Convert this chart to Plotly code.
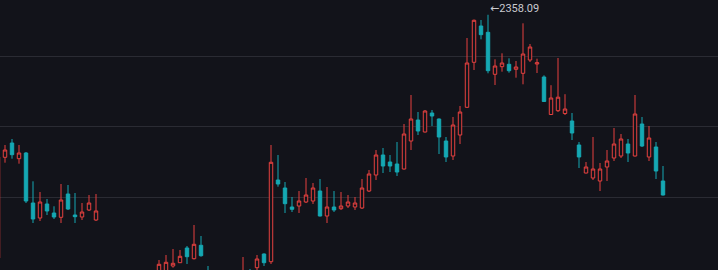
import plotly.graph_objects as go

# trading-day index (categories)
days = list(range(96))

opens = [2015.48, 2157.31, 2177.45, 2155.34, 2163.37, 2092.94, 2071.82, 2091.54, 2078.86, 2072.80,
         2105.62, 2076.04, 2073.23, 2083.08, 2069.00, 1985, 1968, 1956, 1960, 1950,
         1958, 1970, 1978, 1985, 1995, 2004.21, 2008.86, 2029.56, 2014.49, 2033.36,
         1996, 1975, 1962, 1968, 1960, 1972, 1994, 2001.81, 2021.11, 2010.27,
         2125.34, 2114.07, 2087.31, 2088.72, 2094.35, 2095.76, 2109.85, 2074.63, 2087.31, 2084.92,
         2088.72, 2087.31, 2085.90, 2109.85, 2132.38, 2160.55, 2150.69, 2147.88, 2140.83, 2180.27,
         2209.85, 2192.95, 2219.71, 2211.26, 2180.27, 2159.14, 2188.72, 2227.74, 2291.12, 2342.25,
         2333.38, 2274.22, 2284.92, 2288.30, 2281.26, 2275.63, 2294.36, 2288.73, 2270.42, 2217.60,
         2222.95, 2219.01, 2208.44, 2174.64, 2135.20, 2128.16, 2123.93, 2143.65, 2156.33, 2159.14,
         2176.05, 2159.14, 2204.22, 2157.74, 2171.82, 2123.93]
highs = [2160.55, 2174.64, 2183.09, 2174.64, 2164.78, 2123.51, 2108.44, 2098.58, 2088.30, 2119.71,
         2118.30, 2107.03, 2092.94, 2104.21, 2105.62, 1995, 1978, 1966, 1972, 1962,
         1975, 1985, 1990, 2012.66, 2019.70, 2028.15, 2026.74, 2032.38, 2061.96, 2046.46,
         2004.21, 1985, 1975, 1980, 1978, 2016.89, 2000.0, 2019.70, 2022.0, 2174.64,
         2160.55, 2122.52, 2101.40, 2109.85, 2128.16, 2121.11, 2126.75, 2115.48, 2109.85, 2108.44,
         2104.21, 2101.40, 2126.75, 2139.42, 2167.59, 2170.41, 2160.55, 2178.86, 2204.22, 2245.06,
         2221.12, 2223.93, 2223.93, 2212.0, 2185.91, 2214.08, 2229.57, 2325.35, 2351.40, 2350.70,
         2358.09, 2295.35, 2303.80, 2296.75, 2292.95, 2346.05, 2316.90, 2296.19, 2272.81, 2258.87,
         2297.18, 2246.19, 2219.71, 2178.86, 2150.69, 2185.91, 2149.28, 2167.59, 2198.58, 2190.13,
         2183.09, 2245.06, 2214.08, 2201.40, 2178.86, 2145.06]
lows = [2012.66, 2149.71, 2155.34, 2148.30, 2092.94, 2064.77, 2067.59, 2076.04, 2070.41, 2064.77,
        2083.08, 2064.77, 2069.00, 2081.68, 2067.59, 1962, 1950, 1938, 1948, 1935,
        1952, 1962, 1968, 1980, 1990, 2001.81, 2008.43, 2007.03, 2013.36, 2017.31,
        1970, 1958, 1950, 1955, 1952, 1966, 1978, 1996, 2004.21, 2007.03,
        2115.90, 2078.86, 2080.27, 2078.86, 2092.94, 2091.54, 2074.0, 2064.77, 2080.27, 2083.08,
        2085.90, 2083.08, 2084.49, 2108.44, 2125.34, 2135.20, 2136.61, 2130.97, 2140.0, 2167.59,
        2188.72, 2192.3, 2201.40, 2161.96, 2150.69, 2153.51, 2176.05, 2227.0, 2280.27, 2323.52,
        2275.63, 2259.15, 2277.88, 2276.47, 2269.43, 2260.13, 2291.54, 2276.05, 2235.2, 2217.0,
        2221.12, 2216.89, 2181.68, 2142.24, 2134.5, 2125.34, 2109.85, 2123.93, 2152.10, 2156.33,
        2150.69, 2158.4, 2171.82, 2152.10, 2126.75, 2103.5]
closes = [2157.74, 2167.59, 2160.97, 2163.37, 2095.76, 2070.41, 2094.35, 2081.68, 2073.23, 2097.17,
          2084.49, 2073.65, 2080.27, 2092.94, 2081.68, 1970, 1955, 1960, 1952, 1958,
          1970, 1978, 1982, 2006.60, 2009.42, 2008.01, 2017.87, 2017.31, 2034.77, 2018.72,
          1975, 1962, 1968, 1960, 1972, 1994, 1982, 2014.07, 2008.86, 2150.27,
          2119.71, 2091.96, 2084.07, 2095.76, 2104.21, 2114.07, 2074.63, 2087.31, 2083.08, 2088.72,
          2094.35, 2092.94, 2114.07, 2133.79, 2160.55, 2145.06, 2145.06, 2136.61, 2190.13, 2211.26,
          2194.36, 2222.53, 2215.48, 2185.91, 2157.74, 2202.81, 2221.12, 2290.13, 2350.28, 2330.00,
          2279.29, 2285.91, 2290.13, 2279.29, 2284.50, 2302.81, 2312.67, 2290.56, 2235.91, 2240.84,
          2241.96, 2225.34, 2191.54, 2157.74, 2143.65, 2140.83, 2140.83, 2152.10, 2176.05, 2183.09,
          2163.37, 2218.30, 2173.23, 2184.50, 2138.02, 2104.21]

grid_levels = [2100, 2200, 2300]
peak_label = "←2358.09"

BG = "#12131a"
UP = "#e5413f"
DOWN = "#15a8b3"

fig = go.Figure(go.Candlestick(
    x=days, open=opens, high=highs, low=lows, close=closes,
    increasing=dict(line=dict(color=UP, width=1), fillcolor=BG),
    decreasing=dict(line=dict(color=DOWN, width=1), fillcolor=DOWN),
    whiskerwidth=0,
    hoverinfo="skip",
))

peak_idx = highs.index(max(highs))
fig.add_annotation(
    x=days[peak_idx], y=highs[peak_idx], text=peak_label, showarrow=False,
    xanchor="left", yanchor="middle", xshift=0, yshift=6,
    font=dict(family="Roboto, DejaVu Sans, sans-serif", size=11, color="#c9cad0"),
)

fig.update_layout(
    width=718, height=270,
    margin=dict(l=0, r=0, t=0, b=0),
    paper_bgcolor=BG, plot_bgcolor=BG,
    showlegend=False,
    xaxis=dict(range=[0.2857, 102.857], showgrid=False, zeroline=False, showticklabels=False,
               showline=False, rangeslider=dict(visible=False), fixedrange=True),
    yaxis=dict(range=[1998.57, 2378.87], tickvals=grid_levels, showticklabels=False,
               gridcolor="#2a2b33", gridwidth=1, zeroline=False, showline=False, fixedrange=True),
)

fig.write_html("out.html")
